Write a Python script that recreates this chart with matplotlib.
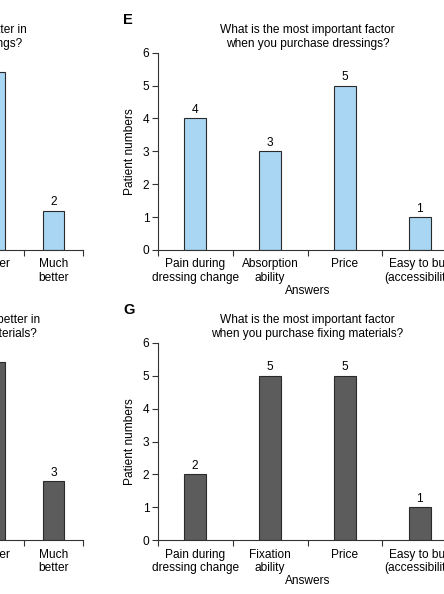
import numpy as np
import matplotlib
matplotlib.use("Agg")
import matplotlib.pyplot as plt
from matplotlib.ticker import FixedLocator

plt.rcParams['font.family'] = ['Liberation Sans', 'DejaVu Sans']
plt.rcParams['font.size'] = 8.6

# panel D / F (left, mostly cropped)
better_cats = ["No change", "Better", "Much\nbetter"]
better_dressings = [2, 9, 2]
better_fixing = [1, 9, 3]

# panel E / G
factor_cats_e = ["Pain during\ndressing change", "Absorption\nability", "Price",
                 "Easy to buy\n(accessibility)"]
factor_cats_g = ["Pain during\ndressing change", "Fixation\nability", "Price",
                 "Easy to buy\n(accessibility)"]
factor_dressings = [4, 3, 5, 1]
factor_fixing = [2, 5, 5, 1]

blue = "#a8d6f3"
grey = "#5c5c5c"
W, H = 444, 594


def px_axes(fig, left, right, top, bottom):
    return fig.add_axes([left / W, 1 - bottom / H, (right - left) / W, (bottom - top) / H])


def bar_panel(ax, cats, vals, color, width, ymax, title, letter=None):
    x = np.arange(len(cats))
    ax.bar(x, vals, width=width, color=color, edgecolor="#2a2a2a", linewidth=0.8)
    for xi, v in zip(x, vals):
        ax.text(xi, v + ymax * 0.012, str(v), ha="center", va="bottom", fontsize=8.6)
    ax.set_xlim(-0.5, len(cats) - 0.5)
    ax.set_ylim(0, ymax)
    ax.set_xticks(x)
    ax.set_xticklabels(cats, linespacing=1.15)
    ax.tick_params(axis="x", which="major", length=0, pad=6)
    ax.xaxis.set_minor_locator(FixedLocator(np.arange(len(cats) + 1) - 0.5))
    ax.tick_params(axis="x", which="minor", length=4, width=0.8, color="#333333")
    ax.tick_params(axis="y", length=4, width=0.8, color="#333333", pad=2)
    for s in ("top", "right"):
        ax.spines[s].set_visible(False)
    for s in ("left", "bottom"):
        ax.spines[s].set_linewidth(0.8)
        ax.spines[s].set_color("#333333")
    ax.set_ylabel("Patient numbers", labelpad=5)
    ax.set_xlabel("Answers", labelpad=1)
    ax.set_title(title, fontsize=8.6, pad=4, linespacing=1.25)
    if letter:
        ax.text(-0.115, 1.166, letter, transform=ax.transAxes, fontsize=10.5,
                fontweight="bold", ha="left", va="center")


fig = plt.figure(figsize=(W / 100, H / 100), dpi=100)

ax_d = px_axes(fig, 83.3 - 3 * 59.3, 83.3, 52.7, 250)
bar_panel(ax_d, better_cats, better_dressings, blue, 0.36, 10,
          "Is it better in\ndressings?")
ax_d.set_xlabel("")

ax_e = px_axes(fig, 157.7, 457.3, 52.7, 250)
bar_panel(ax_e, factor_cats_e, factor_dressings, blue, 0.29, 6,
          "What is the most important factor\nwhen you purchase dressings?", "E")

ax_f = px_axes(fig, 83.3 - 3 * 59.3, 83.3, 342.7, 540.3)
bar_panel(ax_f, better_cats, better_fixing, grey, 0.36, 10,
          "Which is better in\nfixing materials?")
ax_f.set_xlabel("")

ax_g = px_axes(fig, 157.7, 457.3, 342.7, 540.3)
bar_panel(ax_g, factor_cats_g, factor_fixing, grey, 0.29, 6,
          "What is the most important factor\nwhen you purchase fixing materials?", "G")

fig.savefig("out.png", dpi=100)
